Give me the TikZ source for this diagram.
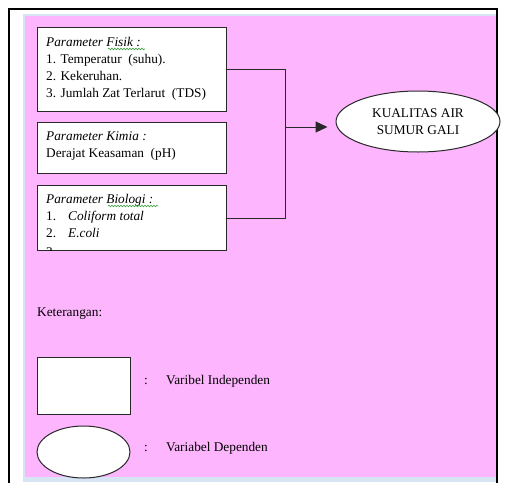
\documentclass[tikz,border=0pt]{standalone}
\usepackage{fontspec}
\setmainfont{Liberation Serif}
\usetikzlibrary{arrows.meta,shapes.geometric,decorations.pathmorphing}
\definecolor{pinkfill}{RGB}{253,182,253}
\definecolor{edgeblue}{RGB}{214,228,244}
\definecolor{boxline}{RGB}{40,40,40}
\definecolor{spellgreen}{RGB}{60,160,60}
% a block of lines whose baseline is that of its first line
\newcommand\toplines[1]{\begin{tabular}[t]{@{}l@{}}#1\end{tabular}}
\begin{document}
\begin{tikzpicture}[x=1pt,y=-1pt,
  every node/.style={font=\fontsize{13.3}{17}\selectfont},
  box/.style={draw=boxline, line width=1pt, fill=white, rectangle, anchor=north west, inner sep=0},
  oval/.style={ellipse, draw=boxline, line width=1pt, fill=white, inner sep=0, align=center},
  txt/.style={anchor=base west, inner sep=0},
  conn/.style={draw=boxline, line width=1pt},
  spell/.style={spellgreen, line width=0.6pt, decorate, decoration={snake, segment length=3pt, amplitude=0.8pt}}]
\useasboundingbox (0,0) rectangle (505,482);
% page background and frame
\fill[white] (0,0) rectangle (505,482);
\fill[edgeblue] (23,14) rectangle (497,482);
\fill[pinkfill] (25,16) rectangle (496,477);
\draw[black, line width=1.6pt] (9,484) -- (9,9) -- (497,9) -- (497,484);

% independent variable boxes
\node[box, minimum width=189pt, minimum height=84pt] (fisik) at (37,27) {};
\node[txt] (tfisik) at (46,46) {\toplines{\textit{Parameter Fisik :}\\1. Temperatur\ \ (suhu).\\2. Kekeruhan.\\3. Jumlah Zat Terlarut\ \ (TDS)}};
\draw[spell] (108,49) -- (145,49);

\node[box, minimum width=189pt, minimum height=51pt] (kimia) at (37,122) {};
\node[txt] (tkimia) at (46,140) {\toplines{\textit{Parameter Kimia :}\\Derajat Keasaman\ \ (pH)}};

\node[box, minimum width=189pt, minimum height=65pt] (bio) at (37,185) {};
\node[txt] (tbio) at (46,203) {\toplines{\textit{Parameter Biologi :}\\\makebox[22pt][l]{1.}\textit{Coliform total}\\\makebox[22pt][l]{2.}\textit{E.coli}}};
\draw[spell] (108,206) -- (158,206);
% the next list item runs past the bottom of the box
\begin{scope}
  \clip ([yshift=-0.5pt]bio.north west) rectangle ([yshift=0.5pt]bio.south east);
  \node[txt] (tbiomore) at (46,256.5) {3.};
\end{scope}

% dependent variable
\node[oval, minimum width=164pt, minimum height=61pt] (kual) at (418,121.5) {KUALITAS AIR\\SUMUR GALI};

% connectors
\coordinate (jn) at (285,127);
\draw[conn] (fisik.east) -- (fisik.east -| jn) -- (bio.east -| jn) -- (bio.east);
\draw[conn, -{Triangle[length=12pt,width=11pt]}] (jn) -- ([xshift=-8pt]kual.west |- jn);

% legend
\node[txt] (ket) at (37,316) {Keterangan:};
\node[box, minimum width=93pt, minimum height=57pt] (legrect) at (37,357) {};
\node[txt] (c1) at (144,384) {:};
\node[txt] (l1) at (166,384) {Varibel Independen};
\node[oval, minimum width=93pt, minimum height=52pt] (legell) at (83.5,452) {};
\node[txt] (c2) at (144,451) {:};
\node[txt] (l2) at (166,451) {Variabel Dependen};
\end{tikzpicture}
\end{document}
